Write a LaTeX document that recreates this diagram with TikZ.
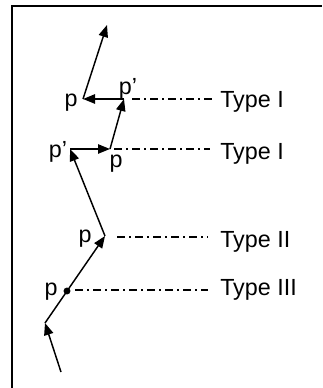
\documentclass[tikz,border=0pt]{standalone}
\usepackage{fontspec}
\setmainfont{Liberation Sans}
\usetikzlibrary{arrows.meta}
\begin{document}
\begin{tikzpicture}[x=0.75pt,y=-0.75pt,
  seg/.style={line width=1.1pt,-{Triangle[length=9pt,width=7pt]}},
  guide/.style={line width=0.8pt,dash pattern=on 6pt off 3pt on 1.5pt off 3pt},
  lbl/.style={inner sep=0pt,anchor=base,font=\fontsize{17.5}{20}\selectfont},
  typ/.style={inner sep=0pt,anchor=base west,font=\fontsize{17.5}{20}\selectfont}]
\useasboundingbox (0,0) rectangle (322,388);
\draw[line width=1.5pt] (12,388) -- (12,6) -- (322,6);
% points
\coordinate (a0) at (61,372);
\coordinate (a1) at (45,323);
\coordinate (d) at (67,291);
\coordinate (a2) at (105,236);
\coordinate (a3) at (70,149);
\coordinate (a4) at (110,149);
\coordinate (a5) at (124,99);
\coordinate (a6) at (83,99);
\coordinate (a7) at (107,25);
% path
\draw[seg] (a0) -- (a1);
\draw[seg] (a1) -- (a2);
\draw[seg] (a2) -- (a3);
\draw[seg] (a3) -- (a4);
\draw[seg] (a4) -- (a5);
\draw[seg] (a5) -- (a6);
\draw[seg] (a6) -- (a7);
\fill (d) circle (2.6pt);
% guides
\coordinate (g1s) at (132,99);  \coordinate (g1e) at (212,99);
\coordinate (g2s) at (114,149); \coordinate (g2e) at (210,149);
\coordinate (g3s) at (117,237); \coordinate (g3e) at (208,237);
\coordinate (g4s) at (75,290);  \coordinate (g4e) at (208,290);
\draw[guide] (g1s) -- (g1e);
\draw[guide] (g2s) -- (g2e);
\draw[guide] (g3s) -- (g3e);
\draw[guide] (g4s) -- (g4e);
% labels
\node[lbl] (l1) at (71,107) {p};
\node[lbl] (l2) at (128,95) {p’};
\node[lbl] (l3) at (58,157) {p’};
\node[lbl] (l4) at (116,168) {p};
\node[lbl] (l5) at (85,242) {p};
\node[lbl] (l6) at (51,295) {p};
\node[typ] (t1) at (220,108) {Type I};
\node[typ] (t2) at (220,160) {Type I};
\node[typ] (t3) at (220,247) {Type II};
\node[typ] (t4) at (220,295) {Type III};
\end{tikzpicture}
\end{document}
